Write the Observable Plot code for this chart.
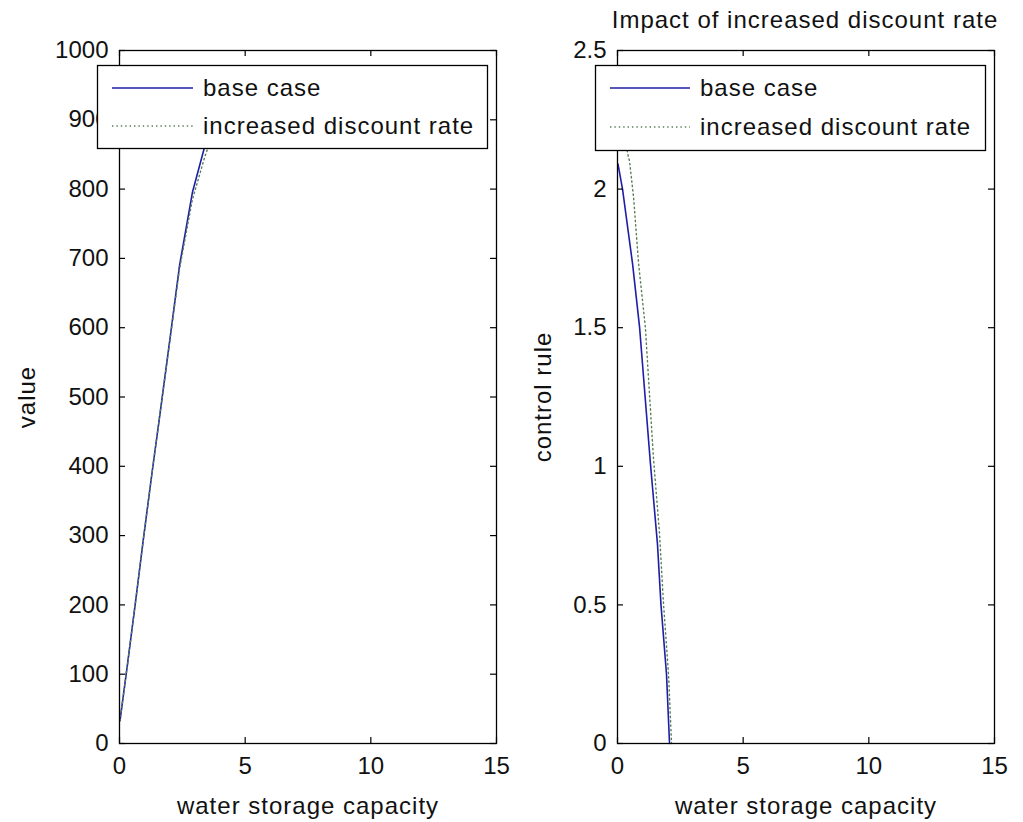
<!DOCTYPE html>
<html>
<head>
<meta charset="utf-8">
<script src="https://cdn.jsdelivr.net/npm/d3@7"></script>
<script src="https://cdn.jsdelivr.net/npm/@observablehq/plot@0.6"></script>
<style>
  html, body { margin: 0; padding: 0; background: #fff; }
  #wrap { position: relative; width: 1023px; height: 822px; overflow: hidden; font-family: "Liberation Sans", Arial, sans-serif; }
  #wrap > svg, #wrap > figure { position: absolute; margin: 0; }
</style>
</head>
<body>
<div id="wrap"></div>
<script>
// ---- data ----
const capacityLeft       = [0.02, 0.32, 0.64, 0.95, 1.31, 1.59, 2.03, 2.39, 2.90, 3.38, 3.90, 4.40];
const valueBase          = [33,   115,  205,  295,  395,  470,  590,  690,  795,  860,  915,  965];
const valueIncreased     = [33,   115,  205,  295,  395,  470,  588,  685,  785,  845,  900,  950];

const capacityRightBase  = [0.02, 0.20, 0.60, 0.88, 1.31, 1.59, 1.73, 1.95, 2.07];
const controlBase        = [2.09, 2.00, 1.73, 1.50, 1.01, 0.72, 0.50, 0.25, 0.00];
const capacityRightIncr  = [0.25, 0.40, 0.48, 0.64, 0.84, 1.11, 1.43, 1.67, 1.83, 2.03, 2.15];
const controlIncreased   = [2.25, 2.13, 2.10, 1.97, 1.73, 1.50, 1.03, 0.76, 0.505, 0.25, 0.00];

const xTicks      = [0, 5, 10, 15];
const yTicksLeft  = [0, 100, 200, 300, 400, 500, 600, 700, 800, 900, 1000];
const yTicksRight = [0, 0.5, 1, 1.5, 2, 2.5];

const seriesNames = ["base case", "increased discount rate"];
const titleText   = "Impact of increased discount rate";
const xLabelText  = "water storage capacity";
const yLabelLeft  = "value";
const yLabelRight = "control rule";

// ---- styling ----
const FONT = '"Liberation Sans", Arial, sans-serif';
const BLUE = "#1e1ea6";
const GREEN = "#587f58";
const H = 822, MT = 50, MB = 79;
const innerH = H - MT - MB;
const TICK = 6;

const toRows = (xs, ys) => xs.map((x, i) => ({x, y: ys[i]}));

function panel({width, marginLeft, marginRight, yDomain, yTicks, base, incr, yLabel, yLabelDx, xLabelDy}) {
  const innerW = width - marginLeft - marginRight;
  return Plot.plot({
    width, height: H, marginLeft, marginRight, marginTop: MT, marginBottom: MB,
    style: {fontFamily: FONT, fontSize: "24px", color: "#111", background: "transparent", overflow: "visible"},
    x: {domain: [0, 15]},
    y: {domain: yDomain},
    marks: [
      Plot.line(base, {x: "x", y: "y", stroke: BLUE, strokeWidth: 1.6}),
      Plot.line(incr, {x: "x", y: "y", stroke: GREEN, strokeWidth: 1.4, strokeDasharray: "1.4,3"}),
      // inward ticks on all four sides
      Plot.ruleX(xTicks, {x: d => d, insetTop: innerH - TICK, stroke: "#000", strokeWidth: 1.2}),
      Plot.ruleX(xTicks, {x: d => d, insetBottom: innerH - TICK, stroke: "#000", strokeWidth: 1.2}),
      Plot.ruleY(yTicks, {y: d => d, insetRight: innerW - TICK, stroke: "#000", strokeWidth: 1.2}),
      Plot.ruleY(yTicks, {y: d => d, insetLeft: innerW - TICK, stroke: "#000", strokeWidth: 1.2}),
      Plot.frame({stroke: "#000", strokeWidth: 1.3}),
      Plot.axisX({ticks: xTicks, tickSize: 0, tickPadding: 13, tickFormat: d => String(d), label: null, fontSize: 24}),
      Plot.axisY({ticks: yTicks, tickSize: 0, tickPadding: 11, tickFormat: d => String(d), label: null, fontSize: 24}),
      Plot.text([xLabelText], {text: d => d, frameAnchor: "bottom", lineAnchor: "middle", textAnchor: "middle", dy: xLabelDy, fontSize: 24, fill: "#111"}),
      Plot.text([yLabel], {text: d => d, frameAnchor: "left", textAnchor: "middle", lineAnchor: "middle", rotate: -90, dx: yLabelDx, fontSize: 24, fill: "#111"})
    ]
  });
}

const wrap = document.getElementById("wrap");

const left = panel({
  width: 511, marginLeft: 119, marginRight: 15,
  yDomain: [0, 1000], yTicks: yTicksLeft,
  base: toRows(capacityLeft, valueBase), incr: toRows(capacityLeft, valueIncreased),
  yLabel: yLabelLeft, yLabelDx: -92, xLabelDy: 63
});
left.style.left = "0px"; left.style.top = "0px";
wrap.appendChild(left);

const right = panel({
  width: 512, marginLeft: 106, marginRight: 29,
  yDomain: [0, 2.5], yTicks: yTicksRight,
  base: toRows(capacityRightBase, controlBase), incr: toRows(capacityRightIncr, controlIncreased),
  yLabel: yLabelRight, yLabelDx: -74, xLabelDy: 63
});
right.style.left = "511px"; right.style.top = "0px";
wrap.appendChild(right);

// letter spacing for text labels
d3.select(wrap).selectAll("svg g[aria-label=text] text").style("letter-spacing", "1px");

// ---- overlay: title and legends ----
const ov = d3.select(wrap).append("svg")
  .attr("width", 1023).attr("height", H)
  .style("left", "0px").style("top", "0px")
  .style("font-family", FONT).style("font-size", "24px");

ov.append("text").attr("x", 805).attr("y", 20).attr("dy", "0.35em")
  .attr("text-anchor", "middle").attr("fill", "#111").style("letter-spacing", "1px")
  .text(titleText);

function legend(x0, y0, w, h, sx0, sx1, tx, rows) {
  const g = ov.append("g");
  g.append("rect").attr("x", x0).attr("y", y0).attr("width", w).attr("height", h)
    .attr("fill", "#fff").attr("stroke", "#000").attr("stroke-width", 1.3);
  const styles = [{stroke: BLUE, dash: null, sw: 1.6}, {stroke: GREEN, dash: "1.4,3", sw: 1.4}];
  rows.forEach((yy, i) => {
    g.append("line").attr("x1", sx0).attr("x2", sx1).attr("y1", yy).attr("y2", yy)
      .attr("stroke", styles[i].stroke).attr("stroke-width", styles[i].sw)
      .attr("stroke-dasharray", styles[i].dash);
    g.append("text").attr("x", tx).attr("y", yy).attr("dy", "0.35em").attr("fill", "#111")
      .style("letter-spacing", "1px").text(seriesNames[i]);
  });
}
legend(97.5, 65.5, 390, 83, 112, 193, 203, [88, 126]);
legend(595.5, 65.5, 390, 85, 610, 690, 700, [88, 127]);
</script>
</body>
</html>
